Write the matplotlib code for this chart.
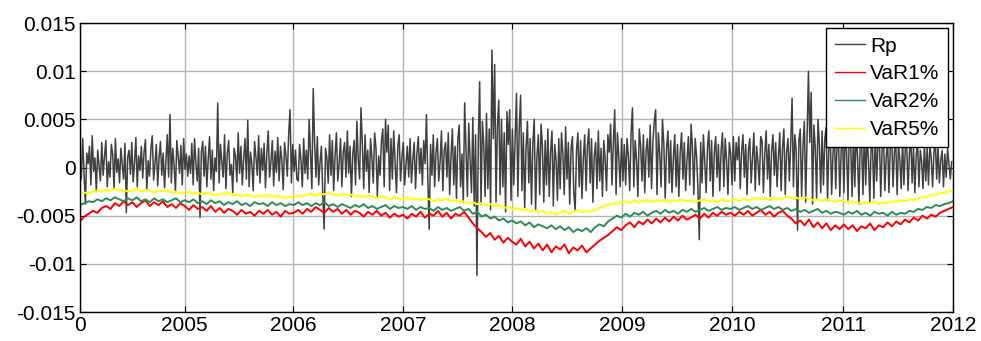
import numpy as np
import matplotlib
matplotlib.use('Agg')
import matplotlib.pyplot as plt

plt.rcParams['font.family'] = ['Liberation Sans', 'DejaVu Sans']

# 组合收益 Rp，单位 1e-4，每 3.125 个交易日一个点（每年 80 个）
rp = [
    # 2004-2005
    8, -12, 30, -6, -38, 15, 4, 22, -18, 33, -4, 10, -25, 18, 2, -14, 26, -8, 12, 28,
    -20, 6, -10, 24, 14, -22, 30, -5, 9, -16, 20, 3, -12, 25, -47, 11, 18, -7, 26, -15,
    5, 31, -20, 12, -3, 22, -11, 16, 29, -24, 7, -9, 19, 33, -13, 4, 24, -19, 10, 27,
    -8, 15, -21, 6, 34, -10, 55, -16, 20, 2, -25, 28, 12, -6, 23, -18, 30, -2, 14, -9,
    # 2005-2006
    12, -6, 25, -18, 30, 4, -14, 20, -52, 16, 27, -9, 22, -20, 8, 32, -12, 18, -24, 10,
    -4, 67, -16, 24, 6, -10, 34, -22, 14, 28, -8, 3, -26, 20, 12, -15, 36, -6, 22, -18,
    9, 30, -12, 49, -20, 16, 4, -24, 27, 11, -8, 33, -16, 20, -3, 25, -21, 14, 38, -10,
    6, 28, -19, 17, -5, 31, -14, 22, 8, -23, 26, 12, -9, 35, 60, -16, 24, -4, 18, -12,
    # 2006-2007
    -14, 24, 8, -20, 30, -6, 18, -12, 50, 14, -22, 82, 26, -10, 32, -18, 6, 22, -28, -64,
    20, 10, -16, 34, -8, 28, -24, 12, 36, -14, 4, 30, -20, 16, 26, -10, 38, -6, 22, -30,
    14, 28, -18, 48, 8, -12, 62, 24, -22, 34, -4, 18, -26, 30, 10, -16, 36, 20, -30, 12,
    -8, 28, 40, -20, 50, 16, 44, -24, 30, -12, 38, 6, -26, 22, 34, -14, 10, 26, -18, 4,
    # 2007-2008
    22, -10, 30, -16, 8, 26, -22, 14, 32, -6, 20, -18, 28, 4, 55, -12, -64, 24, -8, 34,
    -20, 16, 30, -14, 6, 38, -24, 18, 26, -10, 36, -28, 12, 40, -18, 22, -32, 30, 44, -20,
    14, -36, 67, 20, -30, 46, 8, -26, 52, -40, 34, -112, 28, 89, -38, 48, 24, -30, 56, -22,
    40, -44, 122, 30, 107, -36, 42, 70, -28, 50, -20, 36, -46, 58, 24, 60, -34, 40, -18, 30,
    # 2008-2009
    77, -30, 40, 75, -24, 36, -42, 20, 48, -16, 30, -38, 26, 50, -44, 12, 34, -28, 45, 22,
    -36, 28, -18, 40, -30, 16, 38, -40, 24, 8, -34, 30, -22, 36, 14, -28, 42, -12, 26, -38,
    20, 32, -26, -45, 18, 36, -20, 28, -32, 10, 34, -24, 22, 40, -16, 30, -36, 12, 26, -22,
    38, -14, 20, -30, 28, 8, -24, 34, 16, 45, -18, 26, 60, -28, 36, 10, -20, 30, -14, 24,
    # 2009-2010
    -18, 30, 12, -24, 36, 62, -20, 28, 8, -30, 40, 22, -14, 34, -26, 18, 30, -10, 44, -22,
    26, 48, 60, -28, 36, 14, -20, 50, 24, -32, 20, 38, -16, 28, -26, 10, 34, -20, 24, -30,
    16, 36, -12, 26, -24, 8, 32, -18, 45, 20, -28, 30, 12, -22, -75, 26, -16, 34, 6, -26,
    22, 38, -14, 28, -30, 16, 32, -10, 24, -24, 18, 36, -20, 30, 8, -28, 26, 14, -18, 32,
    # 2010-2011
    -14, 26, 8, 32, -22, 16, 34, -10, 24, -28, 18, 30, -16, 10, 36, -24, 22, 6, -18, 32,
    28, -26, 14, 38, -12, 24, -30, 18, 34, -8, 26, -20, 12, 36, -24, 20, 40, -28, 16, 30,
    -14, 24, 72, -20, 34, 18, -65, 28, 40, -30, 22, 48, -36, 30, 100, 26, 78, -38, 44, 20,
    -32, 50, 24, -26, 38, -18, 30, 42, -34, 22, 36, -28, 14, 40, -22, 26, 32, -30, 18, 34,
    # 2011-2012
    -26, 38, 16, -34, 42, 24, -30, 36, -20, 40, 12, -38, 30, 22, -28, 44, -18, 34, 8, -36,
    28, 20, -32, 38, -14, 26, 32, -30, 18, 36, -24, 10, 30, -26, 22, 34, -20, 16, 28, -28,
    24, 8, -22, 30, -18, 20, 26, -24, 14, 32, -16, 22, -26, 12, 28, -20, 18, 6, -22, 26,
    -14, 20, -18, 24, 10, -20, 16, 28, -12, 22, -16, 8, 18, -20, 14, -10, 20, 4, -12, 6,
]

# VaR 序列，单位 1e-4，每 10 个交易日一个点
var1 = [
    -56, -51, -48, -45, -47, -42, -40, -43, -37, -40, -35, -39, -36, -41, -37, -34, -40, -36, -39, -35, -41, -38, -42, -37, -40,
    -44, -39, -43, -41, -45, -40, -46, -42, -47, -43, -45, -49, -44, -48, -46, -50, -45, -48, -44, -49, -46, -51, -45, -48, -47,
    -44, -48, -43, -46, -41, -44, -47, -42, -46, -43, -48, -44, -49, -45, -47, -51, -46, -49, -45, -50, -47, -52, -48, -51, -49,
    -53, -48, -51, -46, -52, -48, -50, -45, -51, -47, -53, -48, -50, -46, -52, -58, -63, -67, -72, -68, -75, -71, -78, -73, -77,
    -80, -74, -82, -77, -84, -79, -86, -80, -88, -82, -85, -80, -89, -83, -86, -81, -88, -84, -80, -76, -73, -70, -66, -62, -65,
    -60, -57, -62, -56, -59, -54, -58, -53, -57, -52, -56, -51, -55, -50, -54, -52, -49, -53, -48, -52, -47, -50, -46, -49, -47,
    -50, -46, -49, -45, -50, -47, -44, -49, -46, -51, -47, -45, -50, -53, -58, -55, -60, -54, -62, -57, -63, -58, -65, -60, -64,
    -59, -64, -60, -66, -61, -63, -58, -65, -60, -62, -57, -61, -56, -59, -54, -57, -52, -55, -50, -53, -49, -51, -47, -45, -43, -41,
]
var2 = [
    -39, -37, -35, -36, -33, -35, -32, -34, -31, -33, -35, -32, -34, -31, -35, -33, -36, -32, -35, -33, -36, -34, -32, -36, -34,
    -36, -33, -37, -35, -38, -34, -37, -35, -39, -36, -38, -35, -39, -37, -40, -36, -38, -37, -40, -36, -39, -37, -40, -38, -39,
    -36, -39, -37, -40, -37, -39, -36, -40, -38, -41, -38, -40, -42, -39, -41, -38, -42, -40, -43, -41, -39, -43, -40, -42, -41,
    -43, -40, -44, -41, -43, -42, -45, -41, -44, -42, -45, -43, -41, -45, -43, -48, -46, -51, -49, -53, -51, -55, -53, -57, -55,
    -58, -56, -60, -57, -62, -59, -61, -63, -60, -64, -61, -65, -62, -67, -64, -66, -63, -67, -62, -59, -61, -56, -53, -50, -52,
    -48, -51, -47, -49, -46, -50, -47, -45, -48, -44, -47, -45, -48, -44, -46, -43, -46, -44, -42, -45, -43, -41, -44, -42, -43,
    -41, -44, -42, -40, -43, -41, -44, -42, -40, -43, -41, -44, -42, -45, -43, -46, -44, -47, -45, -43, -47, -45, -48, -46, -47,
    -49, -46, -48, -45, -49, -47, -50, -46, -48, -47, -50, -46, -49, -47, -48, -45, -46, -43, -44, -41, -42, -39, -40, -38, -37, -35,
]
var5 = [
    -28, -26, -27, -25, -24, -25, -23, -24, -22, -24, -23, -25, -24, -22, -25, -23, -24, -26, -24, -25, -23, -26, -25, -27, -26,
    -25, -27, -26, -28, -26, -27, -29, -27, -28, -26, -29, -28, -30, -28, -29, -31, -29, -30, -28, -31, -29, -30, -32, -30, -31,
    -29, -30, -28, -27, -29, -27, -28, -26, -28, -29, -27, -29, -28, -30, -29, -31, -29, -30, -32, -30, -31, -33, -31, -32, -33,
    -31, -33, -32, -34, -32, -33, -35, -33, -34, -32, -35, -34, -36, -35, -37, -36, -38, -37, -39, -38, -40, -39, -42, -41, -43,
    -42, -44, -43, -46, -44, -47, -45, -48, -46, -49, -47, -45, -48, -46, -44, -47, -45, -46, -44, -42, -40, -39, -37, -38, -36,
    -35, -37, -34, -36, -35, -33, -36, -34, -35, -33, -36, -34, -35, -33, -35, -34, -36, -34, -33, -35, -34, -36, -33, -35, -34,
    -33, -35, -32, -34, -33, -31, -33, -32, -34, -31, -33, -32, -30, -32, -31, -33, -31, -32, -34, -33, -35, -33, -34, -36, -34,
    -35, -37, -35, -36, -38, -36, -37, -35, -38, -36, -37, -35, -36, -34, -35, -33, -34, -32, -31, -30, -29, -28, -27, -26, -25, -24,
]

xtick_pos = [0, 240, 488, 740, 990, 1242, 1494, 1748, 2000]
xtick_labels = ['0', '2005', '2006', '2007', '2008', '2009', '2010', '2011', '2012']
ytick_pos = [-0.015, -0.01, -0.005, 0, 0.005, 0.01, 0.015]
ytick_labels = ['-0.015', '-0.01', '-0.005', '0', '0.005', '0.01', '0.015']


def plot_var_chart():
    rp_day = np.arange(len(rp)) * 3.125
    var_day = np.arange(len(var1)) * 10.0

    fig = plt.figure(figsize=(9.81, 3.41), dpi=100)
    ax = fig.add_axes([0.0815, 0.085, 0.8900, 0.8475])

    ax.plot(rp_day, np.array(rp) * 1e-4, color='#404040', lw=1.1, label='Rp')
    ax.plot(var_day, np.array(var1) * 1e-4, color='#ff0000', lw=1.4, label='VaR1%')
    ax.plot(var_day, np.array(var2) * 1e-4, color='#2e8b57', lw=1.4, label='VaR2%')
    ax.plot(var_day, np.array(var5) * 1e-4, color='#ffff00', lw=1.4, label='VaR5%')

    ax.set_xlim(0, 2000)
    ax.set_ylim(-0.015, 0.015)
    ax.set_xticks(xtick_pos)
    ax.set_xticklabels(xtick_labels)
    ax.set_yticks(ytick_pos)
    ax.set_yticklabels(ytick_labels)
    ax.tick_params(direction='in', length=4, width=0.8, labelsize=15,
                   top=True, right=True, pad=3)
    ax.grid(True, color='#b4b4b4', lw=1.0)
    ax.set_axisbelow(True)
    for s in ax.spines.values():
        s.set_linewidth(1.0)
        s.set_color('black')

    leg = ax.legend(loc='upper right', fontsize=15, frameon=True, fancybox=False,
                    handlelength=1.45, handletextpad=0.25, borderpad=0.4,
                    labelspacing=0.42, borderaxespad=0.25, edgecolor='black',
                    framealpha=1.0)
    leg.get_frame().set_linewidth(1.0)
    for line in leg.get_lines():
        line.set_linewidth(1.0)

    fig.savefig('out.png', dpi=100)


if __name__ == '__main__':
    plot_var_chart()
